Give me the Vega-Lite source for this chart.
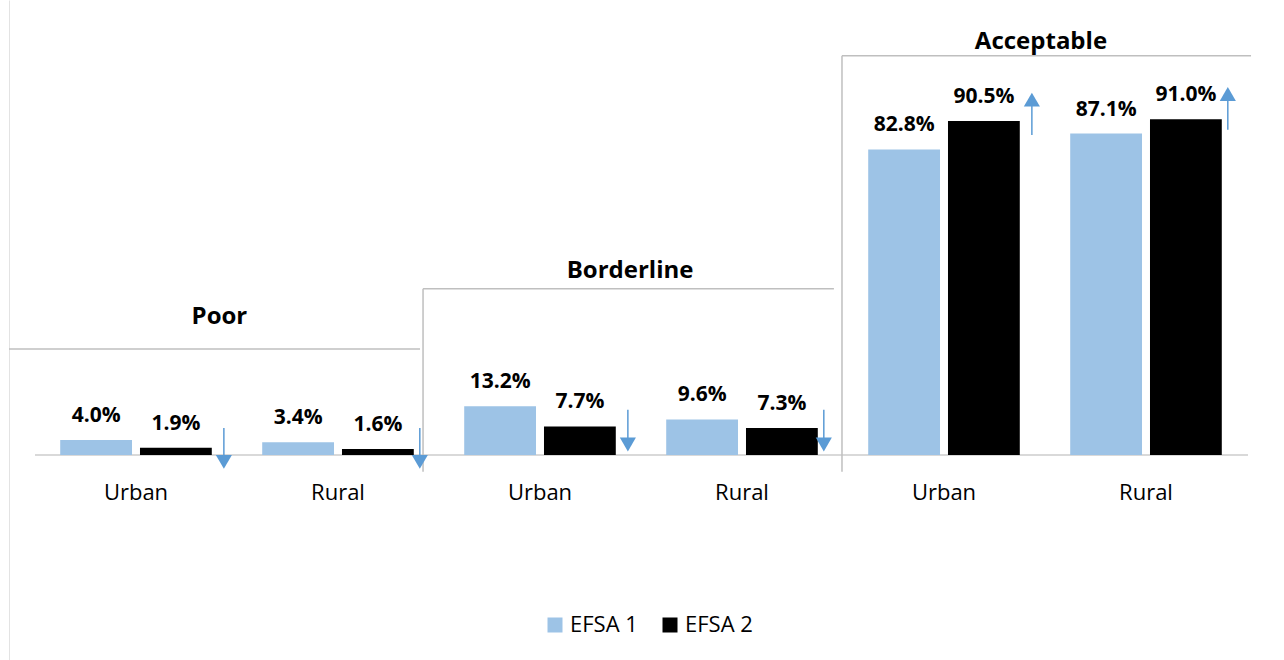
{
  "$schema": "https://vega.github.io/schema/vega-lite/v6.json",
  "width": 1264,
  "height": 660,
  "padding": {"left": 8, "top": 0, "right": 0, "bottom": 0},
  "autosize": {"type": "pad"},
  "background": "white",
  "config": {
    "view": {"stroke": null},
    "font": "Open Sans",
    "axisX": {"domain": false, "ticks": false, "grid": false, "labelFont": "Open Sans", "labelFontSize": 22, "labelColor": "#000000", "labelAngle": 0, "labelBaseline": "alphabetic", "labelPadding": 27, "offset": -188},
    "axisY": {"domain": true, "domainColor": "#E3E3E3", "domainWidth": 1, "ticks": false, "labels": false, "grid": false}
  },
  "datasets": {
    "bars": [
      {"panel": "Poor", "area": "Urban", "key": "Poor|Urban", "series": "EFSA 1", "value": 0.040},
      {"panel": "Poor", "area": "Urban", "key": "Poor|Urban", "series": "EFSA 2", "value": 0.019},
      {"panel": "Poor", "area": "Rural", "key": "Poor|Rural", "series": "EFSA 1", "value": 0.034},
      {"panel": "Poor", "area": "Rural", "key": "Poor|Rural", "series": "EFSA 2", "value": 0.016},
      {"panel": "Borderline", "area": "Urban", "key": "Borderline|Urban", "series": "EFSA 1", "value": 0.132},
      {"panel": "Borderline", "area": "Urban", "key": "Borderline|Urban", "series": "EFSA 2", "value": 0.077},
      {"panel": "Borderline", "area": "Rural", "key": "Borderline|Rural", "series": "EFSA 1", "value": 0.096},
      {"panel": "Borderline", "area": "Rural", "key": "Borderline|Rural", "series": "EFSA 2", "value": 0.073},
      {"panel": "Acceptable", "area": "Urban", "key": "Acceptable|Urban", "series": "EFSA 1", "value": 0.828},
      {"panel": "Acceptable", "area": "Urban", "key": "Acceptable|Urban", "series": "EFSA 2", "value": 0.905},
      {"panel": "Acceptable", "area": "Rural", "key": "Acceptable|Rural", "series": "EFSA 1", "value": 0.871},
      {"panel": "Acceptable", "area": "Rural", "key": "Acceptable|Rural", "series": "EFSA 2", "value": 0.910}
    ],
    "changes": [
      {"key": "Poor|Urban", "area": "Urban", "direction": "down", "tail": 0.073, "head": -0.019},
      {"key": "Poor|Rural", "area": "Rural", "direction": "down", "tail": 0.073, "head": -0.019},
      {"key": "Borderline|Urban", "area": "Urban", "direction": "down", "tail": 0.122, "head": 0.028},
      {"key": "Borderline|Rural", "area": "Rural", "direction": "down", "tail": 0.122, "head": 0.028},
      {"key": "Acceptable|Urban", "area": "Urban", "direction": "up", "tail": 0.867, "head": 0.963},
      {"key": "Acceptable|Rural", "area": "Rural", "direction": "up", "tail": 0.881, "head": 0.978}
    ],
    "brackets": [
      {"panel": "Poor", "first": "Poor|Urban", "last": "Poor|Rural", "level": 0.287, "titleY": 0.355},
      {"panel": "Borderline", "first": "Borderline|Urban", "last": "Borderline|Rural", "level": 0.450, "titleY": 0.479},
      {"panel": "Acceptable", "first": "Acceptable|Urban", "last": "Acceptable|Rural", "level": 1.082, "titleY": 1.100}
    ]
  },
  "layer": [
    {
      "data": {"values": [{"baseline": 0}]},
      "mark": {"type": "rule", "color": "#D9D9D9", "strokeWidth": 2},
      "encoding": {
        "x": {"datum": "Poor|Urban", "type": "nominal", "bandPosition": 0, "title": null},
        "x2": {"datum": "Acceptable|Rural", "bandPosition": 1.005},
        "y": {"field": "baseline", "type": "quantitative", "title": null}
      }
    },
    {
      "data": {"name": "brackets"},
      "transform": [{"filter": "datum.panel == 'Poor'"}],
      "layer": [
        {
          "mark": {"type": "rule", "color": "#BFBFBF", "strokeWidth": 1.5},
          "encoding": {
            "x": {"field": "first", "type": "nominal", "bandPosition": -0.1287, "title": null},
            "x2": {"field": "last", "bandPosition": 0.906},
            "y": {"field": "level", "type": "quantitative", "title": null}
          }
        },
        {
          "mark": {"type": "text", "font": "Open Sans", "fontWeight": "bold", "fontSize": 24, "baseline": "alphabetic", "align": "center", "color": "#000000"},
          "encoding": {
            "x": {"field": "last", "type": "nominal", "bandPosition": -0.087, "title": null},
            "y": {"field": "titleY", "type": "quantitative", "title": null},
            "text": {"field": "panel"}
          }
        }
      ]
    },
    {
      "data": {"name": "brackets"},
      "transform": [{"filter": "datum.panel == 'Borderline'"}],
      "layer": [
        {
          "mark": {"type": "rule", "color": "#BFBFBF", "strokeWidth": 1.5},
          "encoding": {
            "x": {"field": "first", "type": "nominal", "bandPosition": -0.079, "title": null},
            "x2": {"field": "last", "bandPosition": 0.955},
            "y": {"field": "level", "type": "quantitative", "title": null}
          }
        },
        {
          "mark": {"type": "rule", "color": "#BFBFBF", "strokeWidth": 1.5},
          "encoding": {
            "x": {"field": "first", "type": "nominal", "bandPosition": -0.079, "title": null},
            "y": {"field": "level", "type": "quantitative", "title": null},
            "y2": {"datum": -0.046}
          }
        },
        {
          "mark": {"type": "text", "font": "Open Sans", "fontWeight": "bold", "fontSize": 24, "baseline": "alphabetic", "align": "center", "color": "#000000"},
          "encoding": {
            "x": {"field": "last", "type": "nominal", "bandPosition": -0.054, "title": null},
            "y": {"field": "titleY", "type": "quantitative", "title": null},
            "text": {"field": "panel"}
          }
        }
      ]
    },
    {
      "data": {"name": "brackets"},
      "transform": [{"filter": "datum.panel == 'Acceptable'"}],
      "layer": [
        {
          "mark": {"type": "rule", "color": "#BFBFBF", "strokeWidth": 1.5},
          "encoding": {
            "x": {"field": "first", "type": "nominal", "bandPosition": -0.005, "title": null},
            "x2": {"field": "last", "bandPosition": 1.02},
            "y": {"field": "level", "type": "quantitative", "title": null}
          }
        },
        {
          "mark": {"type": "rule", "color": "#BFBFBF", "strokeWidth": 1.5},
          "encoding": {
            "x": {"field": "first", "type": "nominal", "bandPosition": -0.005, "title": null},
            "y": {"field": "level", "type": "quantitative", "title": null},
            "y2": {"datum": -0.046}
          }
        },
        {
          "mark": {"type": "text", "font": "Open Sans", "fontWeight": "bold", "fontSize": 24, "baseline": "alphabetic", "align": "center", "color": "#000000"},
          "encoding": {
            "x": {"field": "last", "type": "nominal", "bandPosition": -0.02, "title": null},
            "y": {"field": "titleY", "type": "quantitative", "title": null},
            "text": {"field": "panel"}
          }
        }
      ]
    },
    {
      "data": {"name": "bars"},
      "layer": [
        {
          "mark": {"type": "bar"},
          "encoding": {
            "x": {"field": "key", "type": "nominal", "sort": null, "title": null,
                  "scale": {"domain": ["Poor|Urban", "Poor|Rural", "Borderline|Urban", "Borderline|Rural", "Acceptable|Urban", "Acceptable|Rural"], "paddingInner": 0, "paddingOuter": 0.1287},
                  "axis": {"labelExpr": "split(datum.label, '|')[1]"}},
            "xOffset": {"field": "series", "type": "nominal", "sort": ["EFSA 1", "EFSA 2"], "scale": {"paddingInner": 0.1, "paddingOuter": 0.316}},
            "y": {"field": "value", "type": "quantitative", "title": null, "scale": {"domain": [-0.556, 1.233], "nice": false, "zero": true}},
            "color": {"field": "series", "type": "nominal",
                      "scale": {"domain": ["EFSA 1", "EFSA 2"], "range": ["#9DC3E6", "#000000"]},
                      "legend": {"orient": "none", "legendX": 535, "legendY": 614, "direction": "horizontal", "title": null, "symbolType": "square", "symbolSize": 225, "symbolStrokeWidth": 0, "labelFont": "Open Sans", "labelFontSize": 22, "labelColor": "#000000", "labelOffset": 4, "columnPadding": 21}}
          }
        },
        {
          "mark": {"type": "text", "font": "Open Sans", "fontWeight": "bold", "fontSize": 21, "baseline": "alphabetic", "align": "center", "dy": -18, "color": "#000000"},
          "encoding": {
            "x": {"field": "key", "type": "nominal", "sort": null, "title": null},
            "xOffset": {"field": "series", "type": "nominal", "sort": ["EFSA 1", "EFSA 2"]},
            "y": {"field": "value", "type": "quantitative", "title": null},
            "text": {"field": "value", "type": "quantitative", "format": ".1%"}
          }
        }
      ]
    },
    {
      "data": {"name": "changes"},
      "transform": [{"filter": "datum.area == 'Urban'"}],
      "layer": [
        {
          "mark": {"type": "rule", "color": "#5B9BD5", "strokeWidth": 1.5},
          "encoding": {
            "x": {"field": "key", "type": "nominal", "bandPosition": 0.935, "title": null},
            "y": {"field": "tail", "type": "quantitative", "title": null},
            "y2": {"field": "head"}
          }
        },
        {
          "mark": {"type": "point", "filled": true, "color": "#5B9BD5", "size": 260, "opacity": 1, "strokeWidth": 0},
          "encoding": {
            "x": {"field": "key", "type": "nominal", "bandPosition": 0.935, "title": null},
            "y": {"field": "head", "type": "quantitative", "title": null},
            "shape": {"field": "direction", "type": "nominal", "scale": {"domain": ["down", "up"], "range": ["triangle-down", "triangle-up"]}, "legend": null}
          }
        }
      ]
    },
    {
      "data": {"name": "changes"},
      "transform": [{"filter": "datum.area == 'Rural'"}],
      "layer": [
        {
          "mark": {"type": "rule", "color": "#5B9BD5", "strokeWidth": 1.5},
          "encoding": {
            "x": {"field": "key", "type": "nominal", "bandPosition": 0.905, "title": null},
            "y": {"field": "tail", "type": "quantitative", "title": null},
            "y2": {"field": "head"}
          }
        },
        {
          "mark": {"type": "point", "filled": true, "color": "#5B9BD5", "size": 260, "opacity": 1, "strokeWidth": 0},
          "encoding": {
            "x": {"field": "key", "type": "nominal", "bandPosition": 0.905, "title": null},
            "y": {"field": "head", "type": "quantitative", "title": null},
            "shape": {"field": "direction", "type": "nominal", "scale": {"domain": ["down", "up"], "range": ["triangle-down", "triangle-up"]}, "legend": null}
          }
        }
      ]
    }
  ]
}
